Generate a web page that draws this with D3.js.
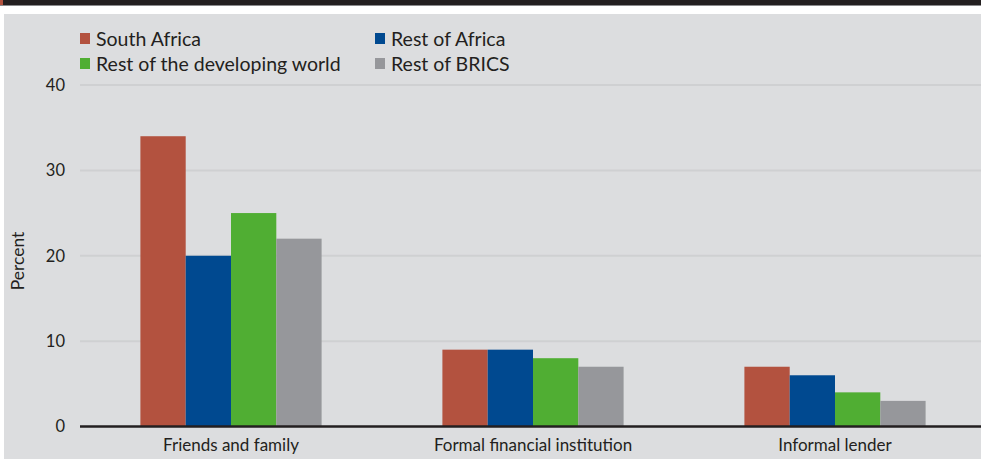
<!DOCTYPE html>
<html>
<head>
<meta charset="utf-8">
<script src="https://cdn.jsdelivr.net/npm/d3@7"></script>
<style>
  html, body { margin: 0; padding: 0; background: #ffffff; }
  svg { display: block; }
  text { font-family: "Lato", "Open Sans", sans-serif; fill: #231f20; }
</style>
</head>
<body>
<svg id="chart" width="981" height="459"></svg>
<script>
// Source of emergency funds, by region (percent)
const categories = ["Friends and family", "Formal financial institution", "Informal lender"];
const seriesNames = ["South Africa", "Rest of Africa", "Rest of the developing world", "Rest of BRICS"];
const southAfrica = [34, 9, 7];
const restOfAfrica = [20, 9, 6];
const restOfDeveloping = [25, 8, 4];
const restOfBrics = [22, 7, 3];
const yTicks = [0, 10, 20, 30, 40];
const colors = ["#b3523f", "#004990", "#50ae33", "#96979b"];

const seriesValues = [southAfrica, restOfAfrica, restOfDeveloping, restOfBrics];

const svg = d3.select("#chart");
const W = 981, H = 459;

// panel background and header strip
svg.append("rect").attr("x", 0).attr("y", 0).attr("width", W).attr("height", H).attr("fill", "#ffffff");
svg.append("rect").attr("x", 4).attr("y", 14).attr("width", W - 4).attr("height", H - 14).attr("fill", "#dcdddf");
svg.append("rect").attr("x", 0).attr("y", 0).attr("width", W).attr("height", 5).attr("fill", "#231f20");
svg.append("rect").attr("x", 0).attr("y", 5).attr("width", W).attr("height", 1).attr("fill", "#8a8a8c");
svg.append("rect").attr("x", 0).attr("y", 0).attr("width", 3).attr("height", 5).attr("fill", "#b3523f");

const x0 = d3.scaleBand().domain(categories).range([80, 986]).paddingInner(0.4).paddingOuter(0.2);
const x1 = d3.scaleBand().domain(seriesNames).range([0, x0.bandwidth()]).padding(0);
const y = d3.scaleLinear().domain([0, 40]).range([426.5, 85]);

// gridlines
svg.append("g").selectAll("line").data(yTicks.filter(d => d > 0)).join("line")
  .attr("x1", 80).attr("x2", W)
  .attr("y1", d => y(d)).attr("y2", d => y(d))
  .attr("stroke", "#cfd0d2").attr("stroke-width", 2);

// y axis labels
const yAxis = d3.axisLeft(y).tickValues(yTicks).tickSize(0).tickPadding(0);
const gy = svg.append("g").attr("transform", "translate(65,0)").call(yAxis);
gy.select(".domain").remove();
gy.selectAll("text").attr("font-size", 16.5).attr("fill", "#231f20")
  .style("font-family", "Lato, 'Open Sans', sans-serif");

// bars
const groups = svg.append("g").selectAll("g").data(categories).join("g")
  .attr("transform", d => `translate(${x0(d)},0)`);
groups.selectAll("rect")
  .data((c, i) => seriesNames.map((s, j) => ({ s, j, v: seriesValues[j][i] })))
  .join("rect")
  .attr("x", d => x1(d.s))
  .attr("width", x1.bandwidth())
  .attr("y", d => y(d.v))
  .attr("height", d => y(0) - y(d.v))
  .attr("fill", d => colors[d.j]);

// baseline and category axis
const xAxis = d3.axisBottom(x0).tickSize(0).tickPadding(12);
const gx = svg.append("g").attr("transform", `translate(0,${y(0)})`).call(xAxis);
gx.select(".domain").remove();
gx.selectAll("text").attr("font-size", 17).attr("fill", "#231f20")
  .style("font-family", "Lato, 'Open Sans', sans-serif");
svg.append("line").attr("x1", 80).attr("x2", W)
  .attr("y1", y(0)).attr("y2", y(0))
  .attr("stroke", "#231f20").attr("stroke-width", 2.5);

// y axis title
svg.append("text")
  .attr("transform", "translate(24,261) rotate(-90)")
  .attr("text-anchor", "middle")
  .attr("font-size", 17.5)
  .text("Percent");

// legend, two columns
const legendPos = [[80, 33], [375, 33], [80, 58], [375, 58]];
const legend = svg.append("g").selectAll("g").data(seriesNames).join("g")
  .attr("transform", (d, i) => `translate(${legendPos[i][0]},${legendPos[i][1]})`);
legend.append("rect").attr("width", 10).attr("height", 11).attr("fill", (d, i) => colors[i]);
legend.append("text").attr("x", 16).attr("y", 12.5).attr("font-size", 19.5).text(d => d);
</script>
</body>
</html>
